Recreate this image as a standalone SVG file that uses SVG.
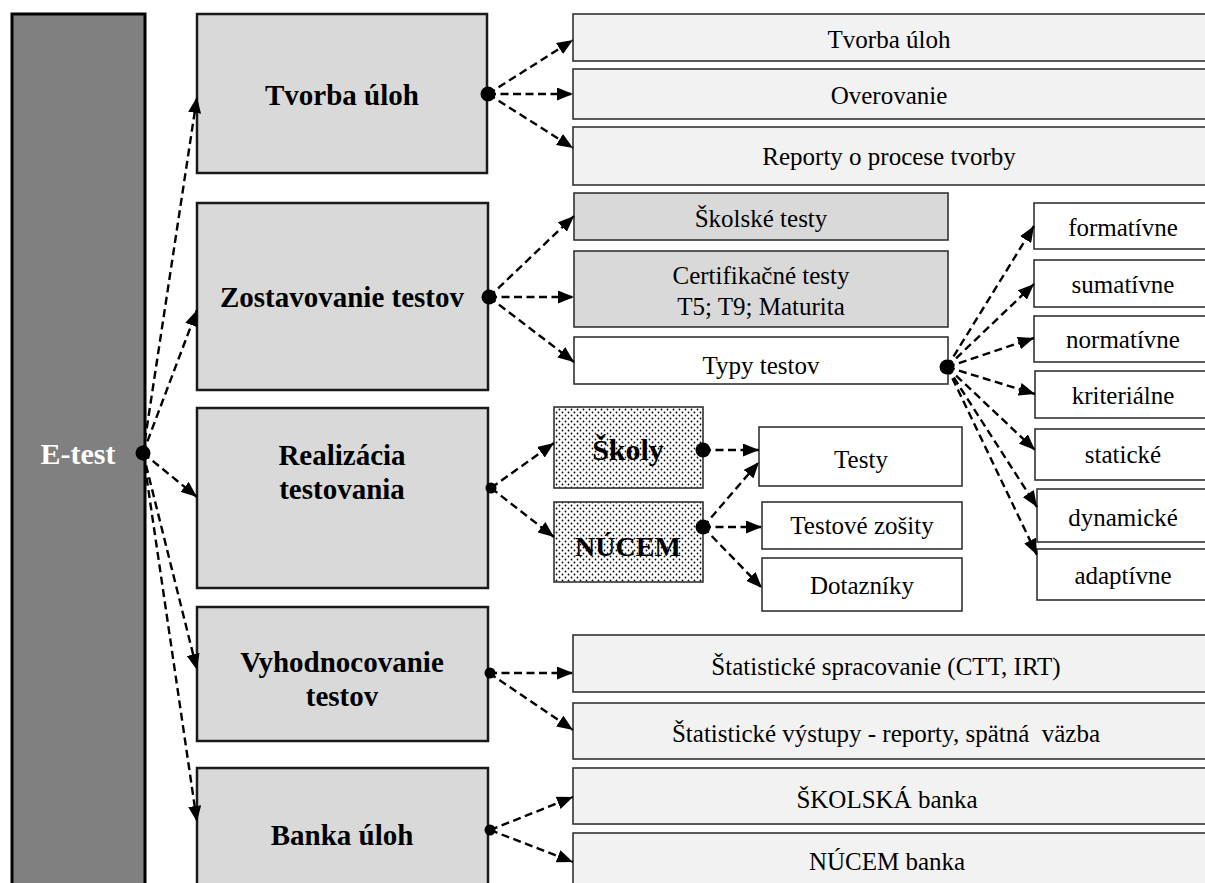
<svg xmlns="http://www.w3.org/2000/svg" width="1205" height="883" viewBox="0 0 1205 883">
  <style>
    text { font-family: "Liberation Serif", "Times New Roman", serif; fill: #000; text-anchor: middle; }
    .bold { font-weight: bold; font-size: 29px; }
    .reg { font-size: 25px; }
    .main { fill: #d9d9d9; stroke: #1a1a1a; stroke-width: 2.5; }
    .light { fill: #f2f2f2; stroke: #333; stroke-width: 1.6; }
    .grey { fill: #d9d9d9; stroke: #333; stroke-width: 1.6; }
    .white { fill: #fff; stroke: #333; stroke-width: 1.6; }
    .dotted { fill: url(#dots); stroke: #333; stroke-width: 1.6; }
    .link { fill: none; stroke: #000; stroke-width: 2.4; stroke-dasharray: 8 4.5; marker-end: url(#arrow); }
    .hub { fill: #000; }
  </style>
  <defs>
    <marker id="arrow" markerUnits="userSpaceOnUse" markerWidth="16" markerHeight="13" refX="16" refY="6.5" orient="auto">
      <path d="M0,0 L16,6.5 L0,13 z" fill="#000"/>
    </marker>
    <pattern id="dots" patternUnits="userSpaceOnUse" width="6" height="6">
      <rect width="6" height="6" fill="#fff"/>
      <circle cx="1.5" cy="1.5" r="0.9" fill="#000"/>
      <circle cx="4.5" cy="4.5" r="0.9" fill="#000"/>
    </pattern>
  </defs>

  <!-- root column -->
  <g id="e-test">
    <rect x="12" y="14" width="133" height="885" fill="#808080" stroke="#000" stroke-width="3"/>
    <text x="78" y="464" class="bold" style="fill:#fff;font-size:30px">E-test</text>
  </g>

  <!-- main branches -->
  <g id="tvorba-uloh">
    <rect x="197" y="14" width="290" height="159" class="main"/>
    <text x="342" y="105" class="bold">Tvorba úloh</text>
  </g>
  <g id="zostavovanie-testov">
    <rect x="197" y="203" width="291" height="187" class="main"/>
    <text x="342" y="307" class="bold">Zostavovanie testov</text>
  </g>
  <g id="realizacia-testovania">
    <rect x="197" y="408" width="291" height="180" class="main"/>
    <text x="342" y="465" class="bold">Realizácia</text>
    <text x="342" y="499" class="bold">testovania</text>
  </g>
  <g id="vyhodnocovanie-testov">
    <rect x="197" y="607" width="291" height="134" class="main"/>
    <text x="342" y="672" class="bold">Vyhodnocovanie</text>
    <text x="342" y="706" class="bold">testov</text>
  </g>
  <g id="banka-uloh">
    <rect x="197" y="768" width="291" height="130" class="main"/>
    <text x="342" y="845" class="bold">Banka úloh</text>
  </g>

  <!-- Tvorba úloh details -->
  <g id="tvorba-uloh-item">
    <rect x="573" y="14" width="640" height="47" class="light"/>
    <text x="889" y="48" class="reg">Tvorba úloh</text>
  </g>
  <g id="overovanie">
    <rect x="573" y="69" width="640" height="50" class="light"/>
    <text x="889" y="104" class="reg">Overovanie</text>
  </g>
  <g id="reporty">
    <rect x="573" y="127" width="640" height="58" class="light"/>
    <text x="889" y="165" class="reg">Reporty o procese tvorby</text>
  </g>

  <!-- Zostavovanie testov details -->
  <g id="skolske-testy">
    <rect x="574" y="193" width="374" height="47" class="grey"/>
    <text x="761" y="227" class="reg">Školské testy</text>
  </g>
  <g id="certifikacne-testy">
    <rect x="574" y="251" width="374" height="76" class="grey"/>
    <text x="761" y="284" class="reg">Certifikačné testy</text>
    <text x="761" y="315" class="reg">T5; T9; Maturita</text>
  </g>
  <g id="typy-testov">
    <rect x="574" y="337" width="374" height="47" class="white"/>
    <text x="761" y="374" class="reg">Typy testov</text>
  </g>

  <!-- test types -->
  <g id="formativne">
    <rect x="1034" y="203" width="180" height="46" class="white"/>
    <text x="1123" y="236" class="reg">formatívne</text>
  </g>
  <g id="sumativne">
    <rect x="1034" y="260" width="180" height="47" class="white"/>
    <text x="1123" y="293" class="reg">sumatívne</text>
  </g>
  <g id="normativne">
    <rect x="1034" y="316" width="180" height="46" class="white"/>
    <text x="1123" y="348" class="reg">normatívne</text>
  </g>
  <g id="kriterialne">
    <rect x="1035" y="371" width="180" height="47" class="white"/>
    <text x="1123" y="404" class="reg">kriteriálne</text>
  </g>
  <g id="staticke">
    <rect x="1035" y="429" width="180" height="51" class="white"/>
    <text x="1123" y="463" class="reg">statické</text>
  </g>
  <g id="dynamicke">
    <rect x="1037" y="489" width="180" height="53" class="white"/>
    <text x="1123" y="526" class="reg">dynamické</text>
  </g>
  <g id="adaptivne">
    <rect x="1037" y="549" width="180" height="51" class="white"/>
    <text x="1123" y="584" class="reg">adaptívne</text>
  </g>

  <!-- Realizácia testovania details -->
  <g id="skoly">
    <rect x="554" y="407" width="149" height="81" class="dotted"/>
    <text x="628" y="460" class="bold" style="font-size:30px">Školy</text>
  </g>
  <g id="nucem">
    <rect x="554" y="502" width="149" height="80" class="dotted"/>
    <text x="628" y="556" class="bold" style="font-size:28px">NÚCEM</text>
  </g>
  <g id="testy">
    <rect x="759" y="427" width="203" height="59" class="white"/>
    <text x="861" y="468" class="reg">Testy</text>
  </g>
  <g id="testove-zosity">
    <rect x="762" y="502" width="200" height="47" class="white"/>
    <text x="862" y="534" class="reg">Testové zošity</text>
  </g>
  <g id="dotazniky">
    <rect x="762" y="558" width="200" height="53" class="white"/>
    <text x="862" y="594" class="reg">Dotazníky</text>
  </g>

  <!-- Vyhodnocovanie testov details -->
  <g id="statisticke-spracovanie">
    <rect x="573" y="635" width="640" height="57" class="light"/>
    <text x="886" y="675" class="reg">Štatistické spracovanie (CTT, IRT)</text>
  </g>
  <g id="statisticke-vystupy">
    <rect x="573" y="703" width="640" height="56" class="light"/>
    <text x="886" y="742" class="reg" style="white-space:pre">Štatistické výstupy - reporty, spätná  väzba</text>
  </g>

  <!-- Banka úloh details -->
  <g id="skolska-banka">
    <rect x="573" y="768" width="640" height="56" class="light"/>
    <text x="887" y="808" class="reg">ŠKOLSKÁ banka</text>
  </g>
  <g id="nucem-banka">
    <rect x="573" y="833" width="640" height="60" class="light"/>
    <text x="887" y="870" class="reg">NÚCEM banka</text>
  </g>

  <!-- connectors -->
  <g id="connectors">
    <line x1="143" y1="453" x2="197" y2="97" class="link"/>
    <line x1="143" y1="453" x2="197" y2="310" class="link"/>
    <line x1="143" y1="453" x2="197" y2="497" class="link"/>
    <line x1="143" y1="453" x2="197" y2="670" class="link"/>
    <line x1="143" y1="453" x2="197" y2="822" class="link"/>

    <line x1="488" y1="94" x2="573" y2="40" class="link"/>
    <line x1="488" y1="94" x2="573" y2="94" class="link"/>
    <line x1="488" y1="94" x2="573" y2="148" class="link"/>

    <line x1="489" y1="297" x2="574" y2="216" class="link"/>
    <line x1="489" y1="297" x2="574" y2="297" class="link"/>
    <line x1="489" y1="297" x2="574" y2="362" class="link"/>

    <line x1="491" y1="488" x2="554" y2="443" class="link"/>
    <line x1="491" y1="488" x2="554" y2="537" class="link"/>

    <line x1="703" y1="450" x2="759" y2="450" class="link"/>
    <line x1="703" y1="527" x2="759" y2="462" class="link"/>
    <line x1="703" y1="527" x2="762" y2="527" class="link"/>
    <line x1="703" y1="527" x2="762" y2="588" class="link"/>

    <line x1="947" y1="367" x2="1034" y2="226" class="link"/>
    <line x1="947" y1="367" x2="1034" y2="284" class="link"/>
    <line x1="947" y1="367" x2="1034" y2="338" class="link"/>
    <line x1="947" y1="367" x2="1035" y2="394" class="link"/>
    <line x1="947" y1="367" x2="1035" y2="450" class="link"/>
    <line x1="947" y1="367" x2="1037" y2="507" class="link"/>
    <line x1="947" y1="367" x2="1037" y2="555" class="link"/>

    <line x1="489" y1="673" x2="573" y2="673" class="link"/>
    <line x1="489" y1="673" x2="573" y2="730" class="link"/>

    <line x1="490" y1="830" x2="573" y2="797" class="link"/>
    <line x1="490" y1="830" x2="573" y2="862" class="link"/>

    <circle cx="143" cy="453" r="7.5" class="hub"/>
    <circle cx="488" cy="94" r="7.5" class="hub"/>
    <circle cx="489" cy="297" r="7.5" class="hub"/>
    <circle cx="491" cy="488" r="5.5" class="hub"/>
    <circle cx="703" cy="450" r="7.5" class="hub"/>
    <circle cx="703" cy="527" r="7.5" class="hub"/>
    <circle cx="947" cy="367" r="7.5" class="hub"/>
    <circle cx="490" cy="673" r="5.5" class="hub"/>
    <circle cx="490" cy="830" r="5.5" class="hub"/>
  </g>
</svg>
